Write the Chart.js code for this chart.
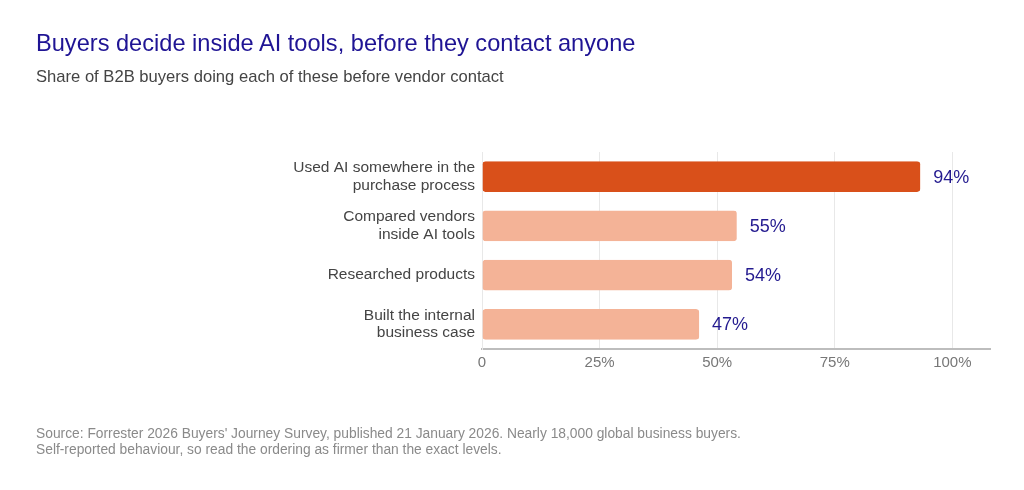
<!DOCTYPE html>
<html>
<head>
<meta charset="utf-8">
<script src="https://cdn.jsdelivr.net/npm/chart.js@4"></script>
<style>
  html, body { margin: 0; padding: 0; background: #fff; }
  body { width: 1024px; height: 490px; position: relative; overflow: hidden; font-family: "Liberation Sans", Arial, sans-serif; }
  #wrap { position: absolute; left: 0; top: 0; width: 1024px; height: 490px; }
  .title { position: absolute; left: 36px; top: 30px; font-size: 23.6px; color: #1f1494; white-space: nowrap; }
  .subtitle { position: absolute; left: 36px; top: 67px; font-size: 16.6px; color: #444; white-space: nowrap; }
  .note { position: absolute; left: 36px; top: 426px; font-size: 13.8px; line-height: 16px; color: #8a8a8a; white-space: nowrap; }
</style>
</head>
<body>
<div id="wrap"><canvas id="grafico"></canvas></div>
<div class="title">Buyers decide inside AI tools, before they contact anyone</div>
<div class="subtitle">Share of B2B buyers doing each of these before vendor contact</div>
<div class="note">Source: Forrester 2026 Buyers' Journey Survey, published 21 January 2026. Nearly 18,000 global business buyers.<br>Self-reported behaviour, so read the ordering as firmer than the exact levels.</div>
<script>
// categories and values
const categorias = [
  ['Used AI somewhere in the', 'purchase process'],
  ['Compared vendors', 'inside AI tools'],
  'Researched products',
  ['Built the internal', 'business case']
];
const valores = [94, 55, 54, 47];
const ticksX = [0, 25, 50, 75, 100];
const rotulos = ['94%', '55%', '54%', '47%'];

const corForte = '#d9501a';
const corFraca = '#f4b397';

// writes the % label just after the end of each bar
const rotuloBarras = {
  id: 'rotuloBarras',
  afterDatasetsDraw(chart) {
    const ctx = chart.ctx;
    const meta = chart.getDatasetMeta(0);
    ctx.save();
    ctx.font = '18px "Liberation Sans", Arial, sans-serif';
    ctx.fillStyle = '#231a8f';
    ctx.textBaseline = 'middle';
    ctx.textAlign = 'left';
    meta.data.forEach((bar, i) => {
      ctx.fillText(rotulos[i], bar.x + 9, bar.y + 1);
    });
    ctx.restore();
  }
};

let grafico = document.getElementById('grafico').getContext('2d');

let chart = new Chart(grafico, {
  type: 'bar',
  data: {
    labels: categorias,
    datasets: [{
      data: valores,
      backgroundColor: valores.map((v, i) => i === 0 ? corForte : corFraca),
      // small clear gap at the bar end, like the original
      borderColor: 'rgba(255,255,255,0)',
      borderWidth: { top: 0, bottom: 0, left: 0, right: 4 },
      borderRadius: { topLeft: 3, bottomLeft: 3, topRight: 7, bottomRight: 7 },
      borderSkipped: false,
      barPercentage: 0.62,
      categoryPercentage: 1
    }]
  },
  options: {
    indexAxis: 'y',
    responsive: true,
    maintainAspectRatio: false,
    animation: false,
    layout: { padding: { top: 152, right: 34, bottom: 111, left: 0 } },
    plugins: {
      legend: { display: false },
      tooltip: { enabled: false }
    },
    scales: {
      x: {
        min: 0,
        max: 108,
        afterBuildTicks(axis) {
          axis.ticks = ticksX.map(v => ({ value: v }));
        },
        afterFit(axis) { axis.height = 30; },
        ticks: {
          padding: 5,
          color: '#777',
          font: { size: 15, family: '"Liberation Sans", Arial, sans-serif' },
          callback: v => v === 0 ? '0' : v + '%'
        },
        grid: { color: '#e8e8e8', lineWidth: 1, drawTicks: false },
        border: { display: true, color: '#bdbdbd', width: 2 }
      },
      y: {
        afterFit(axis) { axis.width = 482; },
        ticks: {
          padding: 7,
          color: '#444',
          font: { size: 15.5, family: '"Liberation Sans", Arial, sans-serif', lineHeight: 1.12 }
        },
        grid: { display: false, drawTicks: false },
        border: { display: true, color: '#e8e8e8', width: 1 }
      }
    }
  },
  plugins: [rotuloBarras]
});
</script>
</body>
</html>
